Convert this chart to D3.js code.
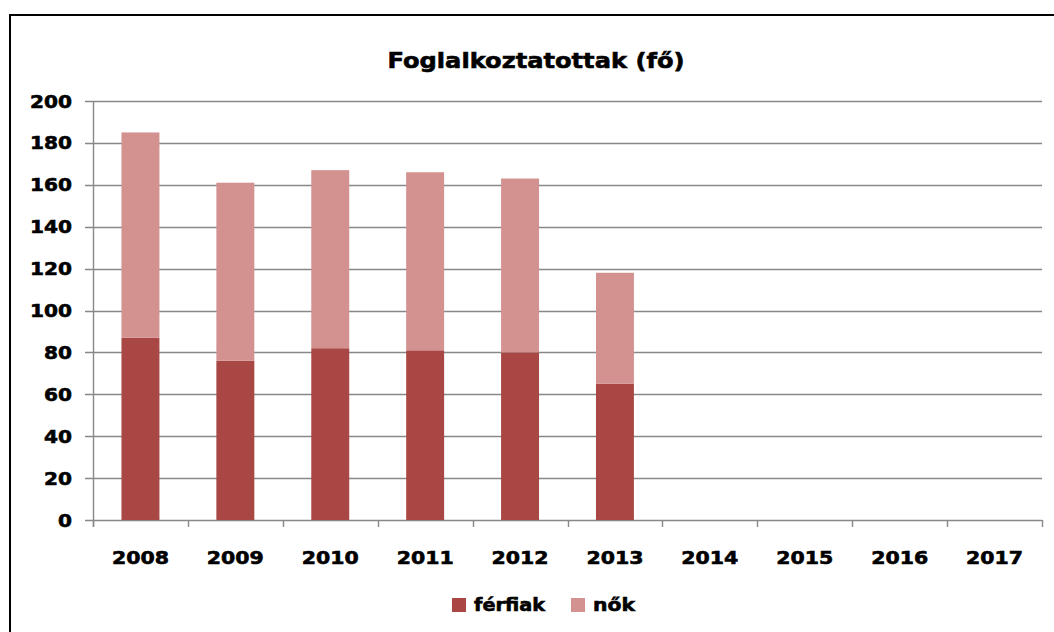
<html>
<head>
    <meta charset="utf-8">
    <title>Foglalkoztatottak</title>
    <script src="https://d3js.org/d3.v7.min.js"></script>
    <style>
        body { margin: 0; background: #fff; }
        text { font-family: "DejaVu Sans", Verdana, sans-serif; font-weight: bold; fill: #000; stroke: #000; stroke-width: 0.6px; }
    </style>
</head>
<body>
    <script>
        // data
        const years = ['2008', '2009', '2010', '2011', '2012', '2013', '2014', '2015', '2016', '2017']
        const ferfiak = [87, 76, 82, 81, 80, 65, null, null, null, null]
        const nok = [98, 85, 85, 85, 83, 53, null, null, null, null]
        const seriesNames = ['férfiak', 'nők']
        const seriesColors = ['#A84744', '#D39290']
        const yTicks = [0, 20, 40, 60, 80, 100, 120, 140, 160, 180, 200]

        const width = 1054
        const height = 632
        const plotLeft = 93, plotRight = 1042, plotTop = 101, plotBottom = 520

        const svg = d3.select('body').append('svg')
            .attr('width', width)
            .attr('height', height)

        // outer frame (cut off at right and bottom)
        svg.append('rect')
            .attr('x', 10).attr('y', 15)
            .attr('width', width + 20).attr('height', height + 20)
            .attr('fill', 'none')
            .attr('stroke', '#000')
            .attr('stroke-width', 2)

        svg.append('text')
            .attr('x', 536).attr('y', 68)
            .attr('text-anchor', 'middle')
            .attr('font-size', '22px')
            .attr('stroke-width', 1)
            .attr('textLength', 297)
            .attr('lengthAdjust', 'spacingAndGlyphs')
            .text('Foglalkoztatottak (fő)')

        const x = d3.scaleBand()
            .domain(years)
            .range([plotLeft, plotRight])
            .paddingInner(0.6)
            .paddingOuter(0.3)

        const xEdge = d3.scaleLinear().domain([0, years.length]).range([plotLeft, plotRight])

        const y = d3.scaleLinear().domain([0, 200]).range([plotBottom, plotTop])

        // gridlines
        svg.append('g')
            .selectAll('line')
            .data(yTicks)
            .enter()
            .append('line')
            .attr('x1', plotLeft - 8)
            .attr('x2', plotRight)
            .attr('y1', d => Math.round(y(d)) + 0.5)
            .attr('y2', d => Math.round(y(d)) + 0.5)
            .attr('stroke', '#888')
            .attr('stroke-width', 1.4)

        // y axis line
        svg.append('line')
            .attr('x1', plotLeft + 0.5).attr('x2', plotLeft + 0.5)
            .attr('y1', plotTop).attr('y2', plotBottom + 7)
            .attr('stroke', '#888')
            .attr('stroke-width', 1.4)

        // category ticks
        svg.append('g')
            .selectAll('line')
            .data(d3.range(years.length + 1))
            .enter()
            .append('line')
            .attr('x1', d => Math.round(xEdge(d)) + 0.5)
            .attr('x2', d => Math.round(xEdge(d)) + 0.5)
            .attr('y1', plotBottom)
            .attr('y2', plotBottom + 7)
            .attr('stroke', '#888')
            .attr('stroke-width', 1.4)

        // y labels
        svg.append('g')
            .selectAll('text')
            .data(yTicks)
            .enter()
            .append('text')
            .attr('x', 72)
            .attr('y', d => y(d) + 6.5)
            .attr('text-anchor', 'end')
            .attr('font-size', '18px')
            .attr('textLength', d => String(d).length * 14)
            .attr('lengthAdjust', 'spacingAndGlyphs')
            .text(d => d)

        // x labels
        svg.append('g')
            .selectAll('text')
            .data(years)
            .enter()
            .append('text')
            .attr('x', d => x(d) + x.bandwidth() / 2)
            .attr('y', 563.5)
            .attr('text-anchor', 'middle')
            .attr('font-size', '18px')
            .attr('textLength', 57)
            .attr('lengthAdjust', 'spacingAndGlyphs')
            .text(d => d)

        // stacked bars
        const rows = years.map((yr, i) => ({ year: yr, ferfiak: ferfiak[i] || 0, nok: nok[i] || 0 }))
        const stacked = d3.stack().keys(['ferfiak', 'nok'])(rows)

        svg.append('g')
            .selectAll('g')
            .data(stacked)
            .enter()
            .append('g')
            .attr('fill', (d, i) => seriesColors[i])
            .selectAll('rect')
            .data(d => d.filter(p => p[1] > p[0]))
            .enter()
            .append('rect')
            .attr('x', d => x(d.data.year))
            .attr('width', x.bandwidth())
            .attr('y', d => y(d[1]))
            .attr('height', d => y(d[0]) - y(d[1]))

        // legend
        const legendItems = [
            { name: seriesNames[0], color: seriesColors[0], x: 452, w: 71 },
            { name: seriesNames[1], color: seriesColors[1], x: 571, w: 42 }
        ]
        const legend = svg.append('g')
        legend.selectAll('rect')
            .data(legendItems)
            .enter()
            .append('rect')
            .attr('x', d => d.x)
            .attr('y', 598)
            .attr('width', 14)
            .attr('height', 14)
            .attr('fill', d => d.color)
        legend.selectAll('text')
            .data(legendItems)
            .enter()
            .append('text')
            .attr('x', d => d.x + 22)
            .attr('y', 611)
            .attr('font-size', '18px')
            .attr('textLength', d => d.w)
            .attr('lengthAdjust', 'spacingAndGlyphs')
            .text(d => d.name)
    </script>
</body>
</html>
